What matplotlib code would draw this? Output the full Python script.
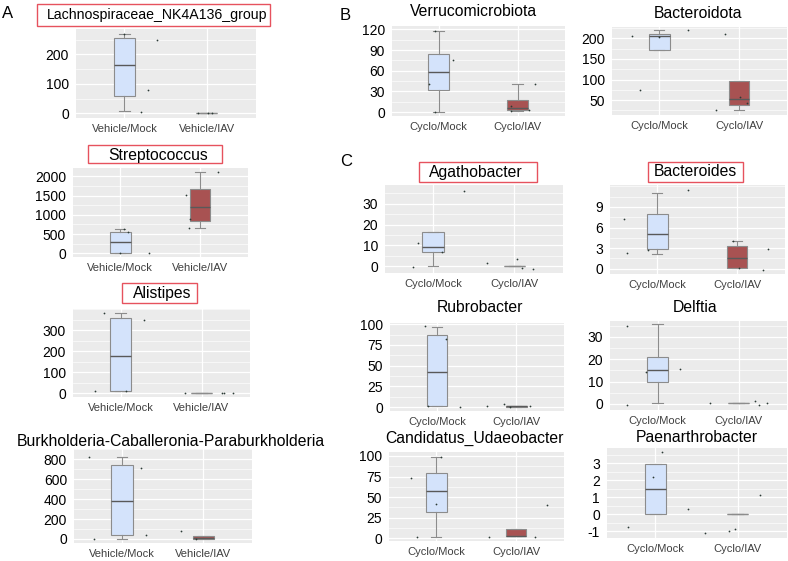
import numpy as np
import matplotlib
matplotlib.use("Agg")
import matplotlib.pyplot as plt
from matplotlib.patches import Rectangle
from matplotlib.ticker import AutoMinorLocator

plt.rcParams["font.family"] = ["Liberation Sans", "DejaVu Sans"]

W, H = 788, 561                     # figure size in pixels (dpi 100)

VEHICLE = ["Vehicle/Mock", "Vehicle/IAV"]
CYCLO = ["Cyclo/Mock", "Cyclo/IAV"]

# box stats: whislo, q1, median, q3, whishi
# *_PTS are the jittered points, *_JIT their horizontal jitter (category units)
LACHNO_MOCK_BOX = [7, 58, 163, 254, 269]
LACHNO_IAV_BOX = [0, 0, 0, 0, 0]
LACHNO_MOCK_PTS = [269, 248, 78, 4]
LACHNO_MOCK_JIT = [0.0, 0.39, 0.28, 0.2]
LACHNO_IAV_PTS = [0, 0, 0]
LACHNO_IAV_JIT = [-0.1, 0.02, 0.06]

STREP_MOCK_BOX = [15, 15, 290, 560, 630]
STREP_IAV_BOX = [664, 836, 1207, 1664, 2112]
STREP_MOCK_PTS = [630, 560, 15, 15]
STREP_MOCK_JIT = [0.05, 0.1, 0.0, 0.36]
STREP_IAV_PTS = [1526, 880, 664, 2112]
STREP_IAV_JIT = [-0.18, -0.13, -0.14, 0.22]

ALIST_MOCK_BOX = [8, 11, 177, 357, 383]
ALIST_IAV_BOX = [0, 0, 0, 0, 0]
ALIST_MOCK_PTS = [383, 349, 8, 8]
ALIST_MOCK_JIT = [-0.21, 0.29, -0.32, 0.06]
ALIST_IAV_PTS = [0, 0, 0, 0]
ALIST_IAV_JIT = [-0.21, 0.25, 0.28, 0.39]

BURK_MOCK_BOX = [0, 37, 386, 739, 824]
BURK_IAV_BOX = [3, 3, 10, 27, 27]
BURK_MOCK_PTS = [824, 715, 0, 44]
BURK_MOCK_JIT = [-0.4, 0.23, -0.35, 0.29]
BURK_IAV_PTS = [78, 3]
BURK_IAV_JIT = [-0.27, -0.09]

VERRU_MOCK_BOX = [0.5, 31.6, 58, 85, 118]
VERRU_IAV_BOX = [1, 2.4, 6.3, 17, 40]
VERRU_MOCK_PTS = [118, 75, 41, 0.5]
VERRU_MOCK_JIT = [-0.05, 0.18, -0.125, -0.05]
VERRU_IAV_PTS = [40, 9, 1, 3.4]
VERRU_IAV_JIT = [0.22, -0.08, -0.08, 0.15]

BACTO_MOCK_BOX = [172, 172, 206.5, 210, 221]
BACTO_IAV_BOX = [25.7, 38, 51.6, 96, 96]
BACTO_MOCK_PTS = [206.5, 204, 221, 74]
BACTO_MOCK_JIT = [-0.34, 0.0, 0.36, -0.24]
BACTO_IAV_PTS = [210, 25.7, 58, 43.5]
BACTO_IAV_JIT = [-0.175, -0.29, 0.01, 0.1]

AGATHO_MOCK_BOX = [0.16, 6.9, 9.25, 16.3, 16.3]
AGATHO_IAV_BOX = [0, 0, 0, 0, 0]
AGATHO_MOCK_PTS = [35.9, 11.2, 6.9, -0.3]
AGATHO_MOCK_JIT = [0.38, -0.19, 0.11, -0.24]
AGATHO_IAV_PTS = [1.4, 3.7, -0.6, -1.3]
AGATHO_IAV_JIT = [-0.34, 0.03, 0.1, 0.23]

BACTES_MOCK_BOX = [2.1, 2.84, 5.05, 8.03, 11.06]
BACTES_IAV_BOX = [0.1, 0.1, 1.59, 3.27, 4.09]
BACTES_MOCK_PTS = [11.4, 7.3, 2.26, 2.74]
BACTES_MOCK_JIT = [0.39, -0.41, -0.38, -0.11]
BACTES_IAV_PTS = [4.09, 0.1, 2.93, -0.24]
BACTES_IAV_JIT = [-0.05, 0.03, 0.39, 0.33]

RUBRO_MOCK_BOX = [0.8, 0.8, 41.9, 86.7, 97.2]
RUBRO_IAV_BOX = [0.4, 0.4, 0.8, 1.5, 1.5]
RUBRO_MOCK_PTS = [98, 82.7, 0.8, 0]
RUBRO_MOCK_JIT = [-0.15, 0.11, -0.11, 0.29]
RUBRO_IAV_PTS = [1.2, 4, 0.4, 0.8]
RUBRO_IAV_JIT = [-0.375, -0.16, -0.08, 0.17]

DELF_MOCK_BOX = [0.3, 10, 15.2, 21.1, 35.7]
DELF_IAV_BOX = [0.3, 0.3, 0.3, 0.3, 0.3]
DELF_MOCK_PTS = [34.9, 15.5, 14.4, -0.6]
DELF_MOCK_JIT = [-0.38, 0.28, -0.14, -0.375]
DELF_IAV_PTS = [0.6, 1.2, -0.3, 0.3]
DELF_IAV_JIT = [-0.35, 0.21, 0.25, 0.35]

UDAEO_MOCK_BOX = [2, 31.5, 57.3, 79.4, 98.8]
UDAEO_IAV_BOX = [2.4, 2.4, 3, 11.3, 11.3]
UDAEO_MOCK_PTS = [98.8, 73.8, 41.5, 1.2]
UDAEO_MOCK_JIT = [0.06, -0.31, 0.0, -0.24]
UDAEO_IAV_PTS = [40.3, 2, 1.2]
UDAEO_IAV_JIT = [0.39, -0.34, 0.24]

PAEN_MOCK_BOX = [0, 0, 1.47, 2.97, 2.97]
PAEN_IAV_BOX = [0, 0, 0, 0, 0]
PAEN_MOCK_PTS = [3.66, 2.22, 0.3, -0.75]
PAEN_MOCK_JIT = [0.08, -0.03, 0.39, -0.34]
PAEN_IAV_PTS = [1.13, -1.13, -0.99, -0.87]
PAEN_IAV_JIT = [0.275, -0.4, -0.11, -0.03]

MOCK_COLOR = "#d4e3fb"
IAV_COLOR = "#a85252"
BG = "#ebebeb"
FRAME_RED = "#e6525e"
EDGE = "#8c8c8c"

PANELS = [
    # title, labels, data, yticks, ylim, axes px (x0, y0, x1, y1), title (x, y, size), red frame px
    ("Lachnospiraceae_NK4A136_group", VEHICLE,
     (LACHNO_MOCK_BOX, LACHNO_IAV_BOX, LACHNO_MOCK_PTS, LACHNO_MOCK_JIT, LACHNO_IAV_PTS, LACHNO_IAV_JIT),
     [0, 100, 200], (-16, 286), (76, 29, 256, 118), (157, 15, 10.2), (37, 4, 270, 26)),
    ("Streptococcus", VEHICLE,
     (STREP_MOCK_BOX, STREP_IAV_BOX, STREP_MOCK_PTS, STREP_MOCK_JIT, STREP_IAV_PTS, STREP_IAV_JIT),
     [0, 500, 1000, 1500, 2000], (-96, 2217), (73, 168, 248, 257), (158, 155, 11.3), (88, 145, 222, 163)),
    ("Alistipes", VEHICLE,
     (ALIST_MOCK_BOX, ALIST_IAV_BOX, ALIST_MOCK_PTS, ALIST_MOCK_JIT, ALIST_IAV_PTS, ALIST_IAV_JIT),
     [0, 100, 200, 300], (-19, 402), (73, 309, 250, 397), (162, 293, 11.3), (122, 283, 197, 303)),
    ("Burkholderia-Caballeronia-Paraburkholderia", VEHICLE,
     (BURK_MOCK_BOX, BURK_IAV_BOX, BURK_MOCK_PTS, BURK_MOCK_JIT, BURK_IAV_PTS, BURK_IAV_JIT),
     [0, 200, 400, 600, 800], (-41, 905), (74, 449, 252, 543), (171, 442, 11.3), None),
    ("Verrucomicrobiota", CYCLO,
     (VERRU_MOCK_BOX, VERRU_IAV_BOX, VERRU_MOCK_PTS, VERRU_MOCK_JIT, VERRU_IAV_PTS, VERRU_IAV_JIT),
     [0, 30, 60, 90, 120], (-5.8, 125), (392, 26, 565, 116), (474, 12, 11.3), None),
    ("Bacteroidota", CYCLO,
     (BACTO_MOCK_BOX, BACTO_IAV_BOX, BACTO_MOCK_PTS, BACTO_MOCK_JIT, BACTO_IAV_PTS, BACTO_IAV_JIT),
     [50, 100, 150, 200], (13.5, 228), (612, 27, 787, 115), (698, 13, 11.3), None),
    ("Agathobacter", CYCLO,
     (AGATHO_MOCK_BOX, AGATHO_IAV_BOX, AGATHO_MOCK_PTS, AGATHO_MOCK_JIT, AGATHO_IAV_PTS, AGATHO_IAV_JIT),
     [0, 10, 20, 30], (-3.2, 39), (385, 185, 563, 273), (476, 172, 11.3), (419, 162, 537, 182)),
    ("Bacteroides", CYCLO,
     (BACTES_MOCK_BOX, BACTES_IAV_BOX, BACTES_MOCK_PTS, BACTES_MOCK_JIT, BACTES_IAV_PTS, BACTES_IAV_JIT),
     [0, 3, 6, 9], (-0.77, 12.2), (610, 185, 785, 274), (695, 172, 11.3), (648, 162, 743, 182)),
    ("Rubrobacter", CYCLO,
     (RUBRO_MOCK_BOX, RUBRO_IAV_BOX, RUBRO_MOCK_PTS, RUBRO_MOCK_JIT, RUBRO_IAV_PTS, RUBRO_IAV_JIT),
     [0, 25, 50, 75, 100], (-4.8, 101.6), (390, 323, 564, 411), (480, 308, 11.3), None),
    ("Delftia", CYCLO,
     (DELF_MOCK_BOX, DELF_IAV_BOX, DELF_MOCK_PTS, DELF_MOCK_JIT, DELF_IAV_PTS, DELF_IAV_JIT),
     [0, 10, 20, 30], (-2.7, 37.1), (610, 321, 787, 410), (695, 308, 11.3), None),
    ("Candidatus_Udaeobacter", CYCLO,
     (UDAEO_MOCK_BOX, UDAEO_IAV_BOX, UDAEO_MOCK_PTS, UDAEO_MOCK_JIT, UDAEO_IAV_PTS, UDAEO_IAV_JIT),
     [0, 25, 50, 75, 100], (-3.2, 104.8), (389, 452, 564, 541), (474, 438, 11.3), None),
    ("Paenarthrobacter", CYCLO,
     (PAEN_MOCK_BOX, PAEN_IAV_BOX, PAEN_MOCK_PTS, PAEN_MOCK_JIT, PAEN_IAV_PTS, PAEN_IAV_JIT),
     [-1, 0, 1, 2, 3], (-1.4, 3.9), (607, 448, 787, 538), (697, 437, 11.3), None),
]

LETTERS = [("A", 8, 13), ("B", 345, 15), ("C", 346, 161)]


def to_stats(box):
    lo, q1, med, q3, hi = box
    return dict(whislo=lo, q1=q1, med=med, q3=q3, whishi=hi, fliers=[])


def draw_panel(fig, title, labels, data, yticks, ylim, rect, tpos, frame):
    mock_box, iav_box, mock_pts, mock_jit, iav_pts, iav_jit = data
    x0, y0, x1, y1 = rect
    ax = fig.add_axes([x0 / W, 1 - y1 / H, (x1 - x0) / W, (y1 - y0) / H])
    ax.set_facecolor(BG)
    for sp in ax.spines.values():
        sp.set_visible(False)

    bp = ax.bxp([to_stats(mock_box), to_stats(iav_box)], positions=[1, 2],
                widths=0.26, capwidths=0.13, patch_artist=True, showfliers=False,
                boxprops=dict(edgecolor=EDGE, linewidth=0.8),
                whiskerprops=dict(color=EDGE, linewidth=0.8),
                capprops=dict(color=EDGE, linewidth=0.8),
                medianprops=dict(color="#595959", linewidth=1.0))
    bp["boxes"][0].set_facecolor(MOCK_COLOR)
    bp["boxes"][1].set_facecolor(IAV_COLOR)
    # a collapsed box shows only as a grey line
    for box, med in zip((mock_box, iav_box), bp["medians"]):
        if box[1] == box[3]:
            med.set_color(EDGE)

    ax.scatter(1 + np.array(mock_jit), mock_pts, s=1.6, color="#2b3a35", zorder=4, linewidths=0)
    ax.scatter(2 + np.array(iav_jit), iav_pts, s=1.6, color="#2b3a35", zorder=4, linewidths=0)

    ax.set_xlim(0.41, 2.6)
    ax.set_ylim(*ylim)
    ax.set_yticks(yticks)
    ax.set_yticklabels([str(t) for t in yticks])
    ax.yaxis.set_minor_locator(AutoMinorLocator(2))
    ax.set_xticks([1, 2])
    ax.set_xticklabels(labels)
    ax.set_axisbelow(True)
    ax.grid(which="major", color="white", linewidth=0.9)
    ax.grid(which="minor", axis="y", color="white", linewidth=0.45)
    ax.tick_params(axis="y", which="both", length=0, labelsize=10, colors="black", pad=5)
    ax.tick_params(axis="x", which="both", length=0, labelsize=8, labelcolor="#3f3f3f", pad=4)

    tx, ty, tsize = tpos
    fig.text(tx / W, 1 - ty / H, title, ha="center", va="center", fontsize=tsize)
    if frame is not None:
        fx0, fy0, fx1, fy1 = frame
        fig.add_artist(Rectangle((fx0 / W, 1 - fy1 / H), (fx1 - fx0) / W, (fy1 - fy0) / H,
                                 transform=fig.transFigure, fill=False,
                                 edgecolor=FRAME_RED, linewidth=1.0))


def main():
    fig = plt.figure(figsize=(W / 100, H / 100), dpi=100)
    fig.patch.set_facecolor("white")
    for p in PANELS:
        draw_panel(fig, *p)
    for letter, x, y in LETTERS:
        fig.text(x / W, 1 - y / H, letter, ha="center", va="center", fontsize=12)
    fig.savefig("out.png", dpi=100)


if __name__ == "__main__":
    main()
